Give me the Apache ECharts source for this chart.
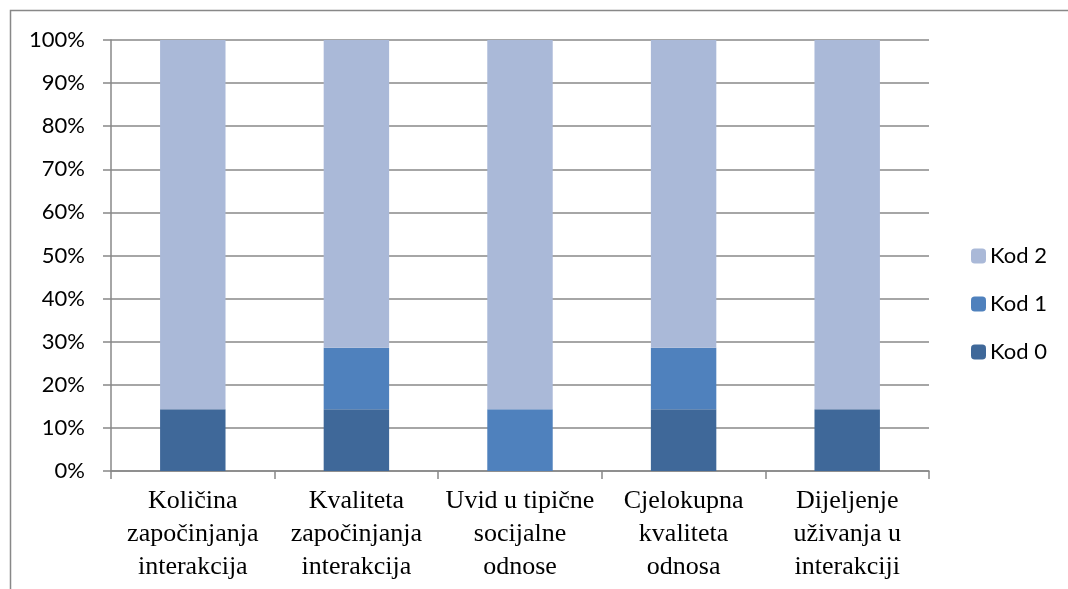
<!DOCTYPE html>
<html>
<head>
<meta charset="utf-8">
<script src="https://cdn.jsdelivr.net/npm/echarts@6/dist/echarts.min.js"></script>
<style>
  html, body { margin: 0; padding: 0; background: #fff; }
  #chart { width: 1068px; height: 589px; }
</style>
</head>
<body>
<div id="chart"></div>
<script>
// categories and stacked shares (%), 7 respondents -> 1/7 steps
const categories = [
  "Količina\nzapočinjanja\ninterakcija",
  "Kvaliteta\nzapočinjanja\ninterakcija",
  "Uvid u tipične\nsocijalne\nodnose",
  "Cjelokupna\nkvaliteta\nodnosa",
  "Dijeljenje\nuživanja u\ninterakciji"
];
const kod0 = [14.3, 14.3, 0, 14.3, 14.3];
const kod1 = [0, 14.3, 14.3, 14.3, 0];
const kod2 = [85.7, 71.4, 85.7, 71.4, 85.7];

const chart = echarts.init(document.getElementById("chart"), null, { renderer: "canvas" });

const barCommon = {
  type: "bar",
  stack: "total",
  barWidth: "40%",
  emphasis: { disabled: true },
};

chart.setOption({
  animation: false,
  graphic: [
    {
      type: "rect",
      shape: { x: 10.5, y: 10.5, width: 1100, height: 700 },
      style: { fill: "none", stroke: "#888", lineWidth: 1.5 },
      silent: true,
    },
  ],
  grid: { left: 111, right: 139, top: 40, bottom: 118 },
  legend: {
    orient: "vertical",
    left: 966,
    top: 240,
    itemWidth: 15,
    itemHeight: 15,
    itemGap: 26,
    data: ["Kod 2", "Kod 1", "Kod 0"],
    textStyle: { fontFamily: "Lato", fontSize: 22, color: "#000", padding: [0, 0, 0, -1] },
  },
  xAxis: {
    type: "category",
    data: categories,
    axisLine: { lineStyle: { color: "#888", width: 1.5 } },
    axisTick: { show: true, length: 8, alignWithLabel: false, lineStyle: { color: "#888", width: 1.5 } },
    axisLabel: {
      interval: 0,
      margin: 14,
      fontFamily: "Liberation Serif",
      fontSize: 26,
      lineHeight: 33,
      color: "#000",
    },
  },
  yAxis: {
    type: "value",
    min: 0,
    max: 100,
    interval: 10,
    axisLine: { show: true, lineStyle: { color: "#888", width: 1.5 } },
    axisTick: { show: true, length: 8, lineStyle: { color: "#888", width: 1.5 } },
    splitLine: { lineStyle: { color: "#888", width: 1.5 } },
    axisLabel: {
      formatter: "{value}%",
      margin: 26,
      fontFamily: "Lato",
      fontSize: 22,
      color: "#000",
    },
  },
  series: [
    { ...barCommon, name: "Kod 0", data: kod0, itemStyle: { color: "#3F6899" } },
    { ...barCommon, name: "Kod 1", data: kod1, itemStyle: { color: "#4F81BD" } },
    { ...barCommon, name: "Kod 2", data: kod2, itemStyle: { color: "#AAB9D8" } },
  ],
});
</script>
</body>
</html>
